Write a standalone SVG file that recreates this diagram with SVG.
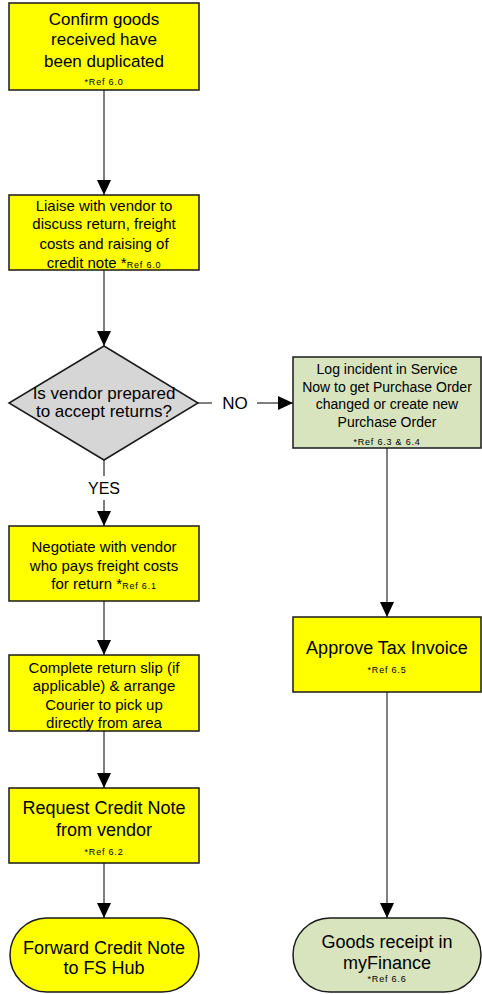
<svg xmlns="http://www.w3.org/2000/svg" width="482" height="994" viewBox="0 0 482 994">
<style>
.box{stroke:#1a1a1a;stroke-width:1.5}
.y{fill:#ffff00}
.g{fill:#d7e4bd}
.d{fill:#d6d6d6}
.t{font-family:"Liberation Sans",Arial,sans-serif;fill:#000;text-anchor:middle}
.f15{font-size:15px}
.f14{font-size:14px}
.f17{font-size:17px}
.f18{font-size:18px}
.ref{font-size:9px;letter-spacing:0.8px}
.c{stroke:#555;stroke-width:1.5;fill:none}
</style>
<defs>
<marker id="ah" markerUnits="userSpaceOnUse" markerWidth="15" markerHeight="14" refX="15" refY="7" orient="auto">
<path d="M0,0 L15,7 L0,14 z" fill="#000"/>
</marker>
</defs>
<g id="connectors">
<path class="c" d="M104,90 V195" marker-end="url(#ah)"/>
<path class="c" d="M104,270 V346" marker-end="url(#ah)"/>
<path class="c" d="M104,460 V476"/>
<path class="c" d="M104,500 V526" marker-end="url(#ah)"/>
<text class="t" x="104" y="494" font-size="16px">YES</text>
<path class="c" d="M198,403 H212"/>
<path class="c" d="M257,403 H293" marker-end="url(#ah)"/>
<text class="t" x="235" y="409" font-size="17px">NO</text>
<path class="c" d="M104,601 V655" marker-end="url(#ah)"/>
<path class="c" d="M104,731 V788" marker-end="url(#ah)"/>
<path class="c" d="M104,863 V918" marker-end="url(#ah)"/>
<path class="c" d="M387,448 V617" marker-end="url(#ah)"/>
<path class="c" d="M387,692 V918" marker-end="url(#ah)"/>
</g>
<g id="confirm">
<rect class="box y" x="9" y="3" width="190" height="87"/>
<text class="t f17" x="104" y="25">Confirm goods</text>
<text class="t f17" x="104" y="45">received have</text>
<text class="t f17" x="104" y="67">been duplicated</text>
<text class="t ref" x="104" y="85">*Ref 6.0</text>
</g>
<g id="liaise">
<rect class="box y" x="9" y="195" width="190" height="75"/>
<text class="t f15" x="104" y="210.5">Liaise with vendor to</text>
<text class="t f15" x="104" y="228.5">discuss return, freight</text>
<text class="t f15" x="104" y="248.5">costs and raising of</text>
<text class="t f15" x="104" y="268">credit note *<tspan class="ref">Ref 6.0</tspan></text>
</g>
<g id="decision">
<polygon class="box d" points="104,346 198,403 104,460 9,403"/>
<text class="t f17" x="104" y="399">Is vendor prepared</text>
<text class="t f17" x="104" y="417">to accept returns?</text>
</g>
<g id="log-incident">
<rect class="box g" x="293" y="357" width="188" height="91"/>
<text class="t f14" x="387" y="374">Log incident in Service</text>
<text class="t f14" x="387" y="392">Now to get Purchase Order</text>
<text class="t f14" x="387" y="409">changed or create new</text>
<text class="t f14" x="387" y="427">Purchase Order</text>
<text class="t ref" x="387" y="445">*Ref 6.3 &amp; 6.4</text>
</g>
<g id="negotiate">
<rect class="box y" x="9" y="526" width="190" height="75"/>
<text class="t f15" x="104" y="551.5">Negotiate with vendor</text>
<text class="t f15" x="104" y="570.5">who pays freight costs</text>
<text class="t f15" x="104" y="588.5">for return *<tspan class="ref">Ref 6.1</tspan></text>
</g>
<g id="complete-slip">
<rect class="box y" x="9" y="655" width="190" height="76"/>
<text class="t f15" x="104" y="672.5">Complete return slip (if</text>
<text class="t f15" x="104" y="690.5">applicable) &amp; arrange</text>
<text class="t f15" x="104" y="709.5">Courier to pick up</text>
<text class="t f15" x="104" y="728">directly from area</text>
</g>
<g id="approve">
<rect class="box y" x="293" y="617" width="188" height="75"/>
<text class="t f18" x="387" y="653.5">Approve Tax Invoice</text>
<text class="t ref" x="387" y="673">*Ref 6.5</text>
</g>
<g id="request">
<rect class="box y" x="9" y="788" width="190" height="75"/>
<text class="t f18" x="104" y="813.5">Request Credit Note</text>
<text class="t f18" x="104" y="835.5">from vendor</text>
<text class="t ref" x="104" y="855">*Ref 6.2</text>
</g>
<g id="forward">
<rect class="box y" x="10" y="918" width="189" height="74" rx="37" ry="37"/>
<text class="t f18" x="104" y="954">Forward Credit Note</text>
<text class="t f18" x="104" y="974">to FS Hub</text>
</g>
<g id="goods-receipt">
<rect class="box g" x="293" y="918" width="188" height="74" rx="37" ry="37"/>
<text class="t f18" x="387" y="947.5">Goods receipt in</text>
<text class="t f18" x="387" y="968.5">myFinance</text>
<text class="t ref" x="387" y="982">*Ref 6.6</text>
</g>
</svg>
